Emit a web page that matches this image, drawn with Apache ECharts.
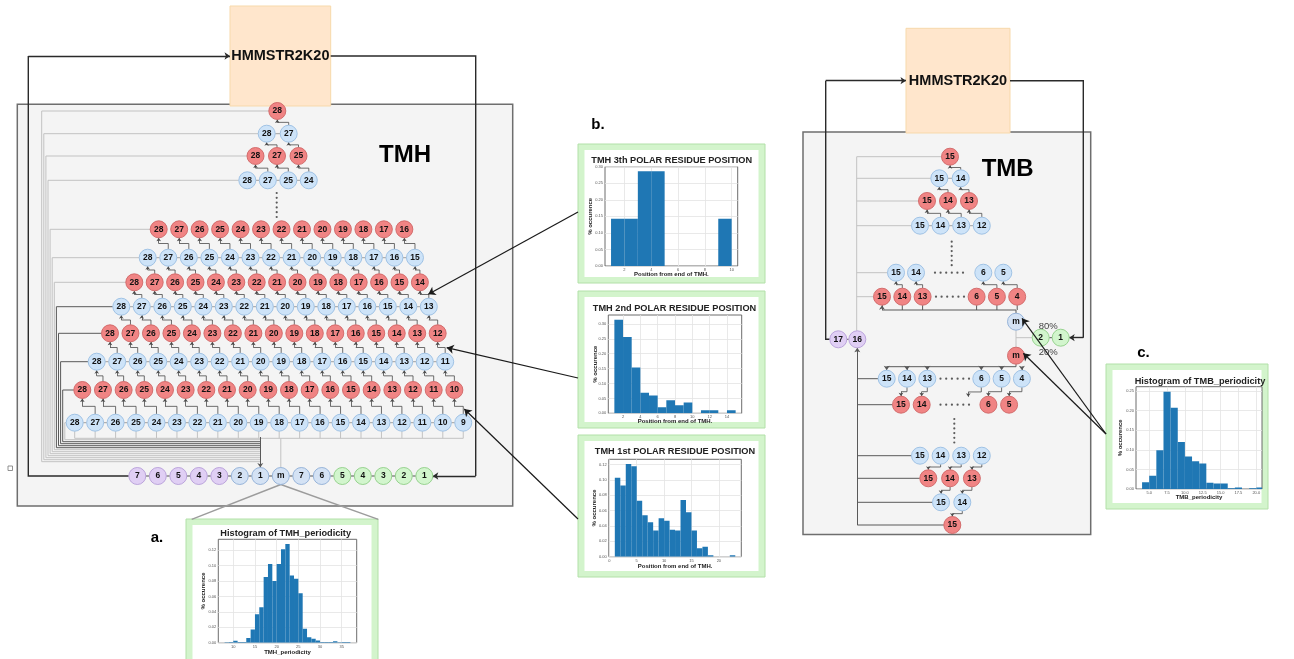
<!DOCTYPE html>
<html>
<head>
<meta charset="utf-8">
<script src="https://cdn.jsdelivr.net/npm/echarts/dist/echarts.min.js"></script>
<style>
  html, body { margin: 0; padding: 0; background: #ffffff; }
  #chart { width: 1294px; height: 659px; }
</style>
</head>
<body>
<div id="chart"></div>
<script>
const FONT = "'Liberation Sans', Arial, sans-serif";

// ---------------- node labels ----------------
// TMH ladder, top to bottom
const tmhLadderRows = [
  ['28'],
  ['28', '27'],
  ['28', '27', '25'],
  ['28', '27', '25', '24'],
  ['28', '27', '26', '25', '24', '23', '22', '21', '20', '19', '18', '17', '16'],
  ['28', '27', '26', '25', '24', '23', '22', '21', '20', '19', '18', '17', '16', '15'],
  ['28', '27', '26', '25', '24', '23', '22', '21', '20', '19', '18', '17', '16', '15', '14'],
  ['28', '27', '26', '25', '24', '23', '22', '21', '20', '19', '18', '17', '16', '15', '14', '13'],
  ['28', '27', '26', '25', '24', '23', '22', '21', '20', '19', '18', '17', '16', '15', '14', '13', '12'],
  ['28', '27', '26', '25', '24', '23', '22', '21', '20', '19', '18', '17', '16', '15', '14', '13', '12', '11'],
  ['28', '27', '26', '25', '24', '23', '22', '21', '20', '19', '18', '17', '16', '15', '14', '13', '12', '11', '10'],
  ['28', '27', '26', '25', '24', '23', '22', '21', '20', '19', '18', '17', '16', '15', '14', '13', '12', '11', '10', '9']
];
const tmhBaseRow = ['7', '6', '5', '4', '3', '2', '1', 'm', '7', '6', '5', '4', '3', '2', '1'];
const tmhBaseKinds = ['purple', 'purple', 'purple', 'purple', 'purple', 'blue2', 'blue2', 'blue2', 'blue2', 'blue2', 'green', 'green', 'green', 'green', 'green'];

// TMB ladder: upper half (above the m states) and lower half
const tmbUpperRows = [['15'], ['15', '14'], ['15', '14', '13'], ['15', '14', '13', '12'], ['15', '14', '6', '5'], ['15', '14', '13', '6', '5', '4']];
const tmbUpperKinds = ['red', 'blue', 'red', 'blue', 'blue', 'red'];
const tmbLowerRows = [['15', '14', '13', '6', '5', '4'], ['15', '14', '6', '5'], ['15', '14', '13', '12'], ['15', '14', '13'], ['15', '14'], ['15']];
const tmbLowerKinds = ['blue', 'red', 'blue', 'red', 'blue', 'red'];

// ---------------- histogram values (bin width 1) ----------------
const tmh3rdStart = 1;
const tmh3rdValues = [0.143, 0.143, 0.286, 0.286, 0, 0, 0, 0, 0.143];
const tmh3rdXTicks = [2, 4, 6, 8, 10];
const tmh3rdYTicks = [0, 0.05, 0.10, 0.15, 0.20, 0.25, 0.30];

const tmh2ndStart = 1;
const tmh2ndValues = [0.314, 0.256, 0.154, 0.069, 0.060, 0.020, 0.044, 0.027, 0.036, 0, 0.010, 0.010, 0, 0.010];
const tmh2ndXTicks = [2, 4, 6, 8, 10, 12, 14];
const tmh2ndYTicks = [0, 0.05, 0.10, 0.15, 0.20, 0.25, 0.30];

const tmh1stStart = 1;
const tmh1stValues = [0.103, 0.093, 0.121, 0.118, 0.073, 0.054, 0.045, 0.034, 0.050, 0.047, 0.035,
                      0.034, 0.074, 0.058, 0.034, 0.011, 0.013, 0.002, 0, 0, 0, 0.002];
const tmh1stXTicks = [0, 5, 10, 15, 20];
const tmh1stYTicks = [0, 0.02, 0.04, 0.06, 0.08, 0.10, 0.12];

const tmhPeriodStart = 8;
const tmhPeriodValues = [0.0005, 0.001, 0.0026, 0.001, 0.001, 0.006, 0.017, 0.037, 0.046, 0.085, 0.102,
                         0.080, 0.102, 0.121, 0.128, 0.087, 0.083, 0.064, 0.018, 0.007, 0.005, 0.003,
                         0.001, 0.001, 0.001, 0.002, 0.0005, 0.001, 0.001];
const tmhPeriodXTicks = [10, 15, 20, 25, 30, 35];
const tmhPeriodYTicks = [0, 0.02, 0.04, 0.06, 0.08, 0.10, 0.12];

const tmbPeriodStart = 4;
const tmbPeriodValues = [0.017, 0.034, 0.099, 0.248, 0.207, 0.120, 0.083, 0.071, 0.065, 0.016, 0.014,
                         0.014, 0.002, 0.004, 0, 0.002, 0.004];
const tmbPeriodXTicks = [5, 7.5, 10, 12.5, 15, 17.5, 20];
const tmbPeriodYTicks = [0, 0.05, 0.10, 0.15, 0.20, 0.25];

// ---------------- diagram layout (canvas pixel units) ----------------
const R = 8.5;  // node radius
const tmhRowY = [111, 133.7, 156, 180.3, 229.3, 257.7, 282.3, 306.7, 333.3, 361.7, 390, 422.7];
const tmhRowX0 = [277.3, 266.7, 255.5, 247.3, 158.7, 147.7, 134.3, 121.3, 110, 96.7, 82.3, 74.7];
const tmhRowStep = [20.5, 22, 21.5, 20.5, 20.47, 20.56, 20.4, 20.5, 20.48, 20.5, 20.67, 20.45];
const tmhBaseY = 476, tmhBaseX0 = 137.3, tmhBaseStep = 20.5;

const tmbUpperY = [156.7, 178.3, 201, 225.7, 272.7, 296.7];
const tmbUpperX0 = [950, 939.3, 927, 920, 896, 882];
const tmbUpperStep = [20, 21.4, 21, 20.6, 20, 20.3];
const tmbUpperGap = [null, null, null, null, [1, 47.3], [2, 33.7]];
const tmbLowerY = [378.7, 404.7, 455.7, 478.3, 502.3, 525];
const tmbLowerX0 = [886.7, 901, 920, 928.3, 941, 952.3];
const tmbLowerStep = [20.3, 20.7, 20.6, 21.8, 21.3, 20];
const tmbLowerGap = [[2, 33.7], [1, 46], null, null, null, null];

// ---------------- geometry builders ----------------
const nodes = { red: [], blue: [], blue2: [], purple: [], green: [] };
const seg = { light: [], dark: [], link: [], linkArrow: [], dash: [], dashDark: [], darkArrow: [],
              loop: [], loopArrow: [], pointer: [], zoomLine: [] };
const dots = [];

function addNode(kind, x, y, label) { nodes[kind].push({ value: [x, y], name: label }); }

function rowXs(count, x0, step, gap) {
  const xs = [];
  for (let k = 0; k < count; k++) xs.push(x0 + k * step + (gap && k > gap[0] ? gap[1] : 0));
  return xs;
}
// arrow pointing up from a lower node into an upper node
function upLink(xl, yl, xu, yu) {
  const ym = (yl - R + yu + R) / 2;
  seg.link.push({ coords: [[xl, yl - R], [xl, ym], [xu, ym]] });
  seg.linkArrow.push({ coords: [[xu, ym], [xu, yu + R]] });
}
// arrow pointing down from an upper node into a lower node
function downLink(xu, yu, xl, yl) {
  const ym = (yu + R + yl - R) / 2;
  seg.link.push({ coords: [[xu, yu + R], [xu, ym], [xl, ym]] });
  seg.linkArrow.push({ coords: [[xl, ym], [xl, yl - R]] });
}
function dashRow(xs, y, target) {
  for (let k = 0; k < xs.length - 1; k++) target.push({ coords: [[xs[k] + R, y], [xs[k + 1] - R, y]] });
}
function dotRun(x0, y0, dx, dy, n) { for (let k = 0; k < n; k++) dots.push([x0 + k * dx, y0 + k * dy]); }

// ---- TMH ladder ----
const tmhX = tmhLadderRows.map((row, r) => rowXs(row.length, tmhRowX0[r], tmhRowStep[r]));
tmhLadderRows.forEach((row, r) => row.forEach((lab, k) => addNode(r % 2 === 0 ? 'red' : 'blue', tmhX[r][k], tmhRowY[r], lab)));
for (let r = 0; r < tmhLadderRows.length - 1; r++) {
  if (r === 3) continue;  // rows 3 and 4 are separated by the ellipsis
  tmhX[r].forEach((xu, j) => upLink(tmhX[r + 1][j + 1], tmhRowY[r + 1], xu, tmhRowY[r]));
}
tmhLadderRows.forEach((row, r) => { if (r % 2 === 1) dashRow(tmhX[r], tmhRowY[r], seg.dash); });

const tmhBaseX = rowXs(tmhBaseRow.length, tmhBaseX0, tmhBaseStep);
tmhBaseRow.forEach((lab, k) => addNode(tmhBaseKinds[k], tmhBaseX[k], tmhBaseY, lab));
dashRow(tmhBaseX, tmhBaseY, seg.dashDark);
const tmhOneX = tmhBaseX[6], tmhMX = tmhBaseX[7];

// every ladder row feeds back into state 1 of the bottom chain
tmhLadderRows.forEach((row, r) => {
  const xv = 41.7 + r * 2.1, yb = 461.7 - r * 2;
  const path = { coords: [[tmhX[r][0] - R, tmhRowY[r]], [xv, tmhRowY[r]], [xv, yb], [tmhOneX, yb]] };
  (r >= 7 && r <= 10 ? seg.dark : seg.light).push(path);
});
seg.darkArrow.push({ coords: [[tmhOneX, 437], [tmhOneX, tmhBaseY - R]] });
// last ladder row collects into m
const tmhBusY = 438.3, lastRow = tmhX.length - 1;
seg.light.push({ coords: [[tmhX[lastRow][0], tmhBusY], [tmhX[lastRow][tmhX[lastRow].length - 1], tmhBusY]] });
tmhX[lastRow].forEach(x => seg.light.push({ coords: [[x, tmhRowY[lastRow] + R], [x, tmhBusY]] }));
seg.light.push({ coords: [[tmhMX, tmhBusY], [tmhMX, tmhBaseY - R]] });
dotRun(276.7, 193, 0, 4.8, 6);

// ---- TMB ladder ----
const tmbUX = tmbUpperRows.map((row, r) => rowXs(row.length, tmbUpperX0[r], tmbUpperStep[r], tmbUpperGap[r]));
const tmbLX = tmbLowerRows.map((row, r) => rowXs(row.length, tmbLowerX0[r], tmbLowerStep[r], tmbLowerGap[r]));
tmbUpperRows.forEach((row, r) => row.forEach((lab, k) => addNode(tmbUpperKinds[r], tmbUX[r][k], tmbUpperY[r], lab)));
tmbLowerRows.forEach((row, r) => row.forEach((lab, k) => addNode(tmbLowerKinds[r], tmbLX[r][k], tmbLowerY[r], lab)));

[[0, 1], [1, 2], [2, 3], [4, 5]].forEach(([u, l]) => {
  tmbUpperRows[u].forEach((lab, j) => {
    const k = tmbUpperRows[l].indexOf(String(Number(lab) - 1));
    if (k >= 0) upLink(tmbUX[l][k], tmbUpperY[l], tmbUX[u][j], tmbUpperY[u]);
  });
});
[[0, 1], [2, 3], [3, 4], [4, 5]].forEach(([u, l]) => {
  tmbLowerRows[l].forEach((lab, j) => {
    const k = tmbLowerRows[u].indexOf(String(Number(lab) - 1));
    if (k >= 0) downLink(tmbLX[u][k], tmbLowerY[u], tmbLX[l][j], tmbLowerY[l]);
  });
});
downLink(tmbLX[0][3], tmbLowerY[0], 968.3, 405.2);  // 6 -> elided states
dashRow(tmbUX[1], tmbUpperY[1], seg.dash);
dashRow(tmbUX[3], tmbUpperY[3], seg.dash);

const tmbM1 = [1016, 321.7], tmbM2 = [1016, 355.7];
const tmb2 = [1040.7, 337.7], tmb1 = [1060.7, 337.7];
const tmb17 = [838.3, 339.3], tmb16 = [857.3, 339.3];
addNode('blue2', tmbM1[0], tmbM1[1], 'm');
addNode('red', tmbM2[0], tmbM2[1], 'm');
addNode('green', tmb2[0], tmb2[1], '2');
addNode('green', tmb1[0], tmb1[1], '1');
addNode('purple', tmb17[0], tmb17[1], '17');
addNode('purple', tmb16[0], tmb16[1], '16');

// upper half returns to 16 from above
seg.light.push({ coords: [[856.7, tmbUpperY[0]], [856.7, tmb16[1] - R]] });
tmbUpperRows.forEach((row, r) => seg.light.push({ coords: [[856.7, tmbUpperY[r]], [tmbUX[r][0] - R, tmbUpperY[r]]] }));
// lower half returns to 16 from below
seg.darkArrow.push({ coords: [[857.3, tmbLowerY[5]], [857.3, tmb16[1] + R]] });
tmbLowerRows.forEach((row, r) => seg.dark.push({ coords: [[857.3, tmbLowerY[r]], [tmbLX[r][0] - R, tmbLowerY[r]]] }));
// m (blue) feeds the upper ladder
const t5 = tmbUpperRows.length - 1, t5Y = tmbUpperY[t5], busUp = 310;
seg.dark.push({ coords: [[tmbUX[t5][0], busUp], [tmbM1[0], busUp], [tmbM1[0], tmbM1[1] - R]] });
seg.darkArrow.push({ coords: [[tmbUX[t5][0], busUp], [tmbUX[t5][0], t5Y + R]] });
tmbUX[t5].slice(1).forEach(x => seg.dark.push({ coords: [[x, t5Y + R], [x, busUp]] }));
// m (red) feeds the lower ladder
const busDown = 366.7;
seg.dark.push({ coords: [[tmbM2[0], tmbM2[1] + R], [tmbM2[0], busDown], [tmbLX[0][0], busDown]] });
tmbLX[0].forEach(x => seg.darkArrow.push({ coords: [[x, busDown], [x, tmbLowerY[0] - R]] }));
seg.light.push({ coords: [[tmbM1[0], tmbM1[1] + R], [tmbM2[0], tmbM2[1] - R]] });
seg.light.push({ coords: [[tmbM1[0], tmb2[1]], [tmb2[0] - R, tmb2[1]]] });
seg.dashDark.push({ coords: [[tmb2[0] + R, tmb2[1]], [tmb1[0] - R, tmb1[1]]] });
seg.dashDark.push({ coords: [[tmb17[0] + R, tmb17[1]], [tmb16[0] - R, tmb16[1]]] });
dotRun(935, 272.7, 5.6, 0, 6);
dotRun(936, 296.7, 5.6, 0, 6);
dotRun(940.5, 378.7, 5.7, 0, 6);
dotRun(940.5, 404.7, 5.7, 0, 6);
dotRun(951.7, 241.7, 0, 4.7, 6);
dotRun(954.3, 419, 0, 4.7, 6);

// ---- outer HMMSTR2K20 loops ----
seg.loop.push({ coords: [[tmhBaseX[0] - R, tmhBaseY], [28.3, tmhBaseY], [28.3, 56]] });
seg.loopArrow.push({ coords: [[28.3, 56], [230, 56]] });
seg.loop.push({ coords: [[330.7, 56], [475.7, 56], [475.7, tmhBaseY]] });
seg.loopArrow.push({ coords: [[475.7, tmhBaseY], [tmhBaseX[14] + R, tmhBaseY]] });
seg.loop.push({ coords: [[tmb17[0] - R, tmb17[1]], [825.7, tmb17[1]], [825.7, 80.7]] });
seg.loopArrow.push({ coords: [[825.7, 80.7], [906, 80.7]] });
seg.loop.push({ coords: [[1010, 80.7], [1083.3, 80.7], [1083.3, tmb1[1]]] });
seg.loopArrow.push({ coords: [[1083.3, tmb1[1]], [tmb1[0] + R, tmb1[1]]] });

// ---- call-outs ----
seg.pointer.push({ coords: [[578, 212], [428.3, 294.3]] });
seg.pointer.push({ coords: [[578, 378], [446.7, 347.7]] });
seg.pointer.push({ coords: [[578, 519], [464.3, 409]] });
seg.pointer.push({ coords: [[1106, 434], [1022, 318.3]] });
seg.pointer.push({ coords: [[1106, 434], [1023.3, 353.3]] });
seg.zoomLine.push({ coords: [[tmhMX, tmhBaseY + R], [191.7, 519.3]] });
seg.zoomLine.push({ coords: [[tmhMX, tmhBaseY + R], [378.3, 519.3]] });

// ---------------- series helpers ----------------
function pathSeries(data, color, width, z) {
  return { type: 'lines', coordinateSystem: 'cartesian2d', xAxisIndex: 0, yAxisIndex: 0, polyline: true,
           silent: true, animation: false, z: z || 3, lineStyle: { color, width, opacity: 1, curveness: 0 }, data };
}
function arrowSeries(data, color, width, size, z) {
  return { type: 'lines', coordinateSystem: 'cartesian2d', xAxisIndex: 0, yAxisIndex: 0, polyline: false,
           symbol: ['none', 'arrow'], symbolSize: size, silent: true, animation: false, z: z || 3,
           lineStyle: { color, width, opacity: 1, curveness: 0 }, data };
}
function nodeSeries(kind, fill, stroke) {
  return { type: 'scatter', xAxisIndex: 0, yAxisIndex: 0, symbol: 'circle', symbolSize: 17, data: nodes[kind],
           silent: true, animation: false, z: 6,
           itemStyle: { color: fill, borderColor: stroke, borderWidth: 0.9, opacity: 1 },
           label: { show: true, position: 'inside', formatter: '{b}', color: '#111', fontSize: 8.5,
                    fontWeight: 'bold', fontFamily: FONT },
           emphasis: { disabled: true } };
}

// ---------------- histograms ----------------
const histograms = [
  { title: 'TMH 3th POLAR RESIDUE POSITION', start: tmh3rdStart, values: tmh3rdValues, xTicks: tmh3rdXTicks, yTicks: tmh3rdYTicks,
    xName: 'Position from end of TMH.', grid: { left: 605, top: 166.7, width: 132.7, height: 99.3 },
    xMin: 0.55, xMax: 10.45, yMax: 0.30, titleAt: [671.7, 160.7], xGap: 5.3, yGap: 12, xDec: 0 },
  { title: 'TMH 2nd POLAR RESIDUE POSITION', start: tmh2ndStart, values: tmh2ndValues, xTicks: tmh2ndXTicks, yTicks: tmh2ndYTicks,
    xName: 'Position from end of TMH.', grid: { left: 608.3, top: 315, width: 133.4, height: 98.3 },
    xMin: 0.3, xMax: 15.7, yMax: 0.33, titleAt: [674.5, 308.3], xGap: 5.4, yGap: 9.6, xDec: 0 },
  { title: 'TMH 1st POLAR RESIDUE POSITION', start: tmh1stStart, values: tmh1stValues, xTicks: tmh1stXTicks, yTicks: tmh1stYTicks,
    xName: 'Position from end of TMH.', grid: { left: 608.8, top: 459.3, width: 132.5, height: 97.4 },
    xMin: -0.1, xMax: 24.1, yMax: 0.127, titleAt: [675, 451.7], xGap: 7, yGap: 11.5, xDec: 0 },
  { title: 'Histogram of TMH_periodicity', start: tmhPeriodStart, values: tmhPeriodValues, xTicks: tmhPeriodXTicks, yTicks: tmhPeriodYTicks,
    xName: 'TMH_periodicity', grid: { left: 218.3, top: 539.3, width: 138.4, height: 103.4 },
    xMin: 6.55, xMax: 38.45, yMax: 0.134, titleAt: [285.7, 533.5], xGap: 6.6, yGap: 12, xDec: 0 },
  { title: 'Histogram of TMB_periodicity', start: tmbPeriodStart, values: tmbPeriodValues, xTicks: tmbPeriodXTicks, yTicks: tmbPeriodYTicks,
    xName: 'TMB_periodicity', grid: { left: 1136, top: 386.7, width: 126, height: 102.3 },
    xMin: 3.15, xMax: 20.8, yMax: 0.261, titleAt: [1200, 381.2], xGap: 5.7, yGap: 13, xDec: 1 }
];

const grids = [{ left: 0, top: 0, width: 1294, height: 659, show: false, containLabel: false, outerBoundsMode: 'none' }];
const xAxes = [{ type: 'value', gridIndex: 0, min: 0, max: 1294, show: false }];
const yAxes = [{ type: 'value', gridIndex: 0, min: 0, max: 659, inverse: true, show: false }];
const histSeries = [];
const histTitles = [];

function renderBin(params, api) {
  const lo = api.coord([api.value(0), api.value(2)]);
  const hi = api.coord([api.value(1), 0]);
  return { type: 'rect', shape: { x: lo[0], y: lo[1], width: hi[0] - lo[0], height: hi[1] - lo[1] },
           style: { fill: '#1f77b4' } };
}

histograms.forEach((h, i) => {
  const gi = i + 1;
  grids.push(Object.assign({ show: true, backgroundColor: '#ffffff', borderColor: '#5c5c5c', borderWidth: 0.9,
                             containLabel: false, outerBoundsMode: 'none' }, h.grid));
  xAxes.push({
    type: 'value', gridIndex: gi, min: h.xMin, max: h.xMax,
    name: h.xName, nameLocation: 'middle', nameGap: h.xGap, nameMoveOverlap: false,
    nameTextStyle: { fontSize: 6, fontWeight: 'bold', color: '#222', fontFamily: FONT },
    axisLine: { show: false }, axisTick: { show: false, customValues: h.xTicks },
    axisLabel: { customValues: h.xTicks, fontSize: 4, color: '#555', margin: 2, fontFamily: FONT,
                 formatter: v => Number(v).toFixed(h.xDec) },
    splitLine: { show: true, lineStyle: { color: '#e3e3e3', width: 0.8 } }
  });
  yAxes.push({
    type: 'value', gridIndex: gi, min: 0, max: h.yMax,
    name: '% occurence', nameLocation: 'middle', nameGap: h.yGap, nameMoveOverlap: false,
    nameTextStyle: { fontSize: 6, fontWeight: 'bold', color: '#222', fontFamily: FONT },
    axisLine: { show: false }, axisTick: { show: false, customValues: h.yTicks },
    axisLabel: { customValues: h.yTicks, fontSize: 4, color: '#555', margin: 2, fontFamily: FONT,
                 formatter: v => Number(v).toFixed(2) },
    splitLine: { show: true, lineStyle: { color: '#e3e3e3', width: 0.8 } }
  });
  histSeries.push({
    type: 'custom', xAxisIndex: gi, yAxisIndex: gi, renderItem: renderBin, clip: true,
    encode: { x: [0, 1], y: 2 }, silent: true, animation: false, z: 4,
    data: h.values.map((v, k) => [h.start + k, h.start + k + 1, v])
  });
  histTitles.push(txt(h.titleAt[0], h.titleAt[1], h.title, 9.2, 'bold', '#222'));
});

// ---------------- static shapes and text ----------------
function txt(x, y, text, size, weight, color, align) {
  return { type: 'text', x, y, z: 20, silent: true,
           style: { text, fontSize: size, fontWeight: weight, fontFamily: FONT, fill: color,
                    align: align || 'center', verticalAlign: 'middle',
                    textAlign: align || 'center', textVerticalAlign: 'middle' } };
}
function box(x, y, w, h, fill, stroke, lw, z) {
  return { type: 'rect', z, silent: true, shape: { x, y, width: w, height: h },
           style: { fill, stroke, lineWidth: lw } };
}
function greenFrame(x, y, w, h) {
  return [box(x, y, w, h, '#d3f4cc', '#b2e0a8', 1, -8), box(x + 6.5, y + 6, w - 13, h - 12, '#ffffff', null, 0, -7)];
}

const graphicElements = [
  box(17.3, 104.3, 495.4, 401.7, '#f4f4f4', '#6e6e6e', 1.5, -10),
  box(803, 132, 287.7, 402.5, '#f4f4f4', '#6e6e6e', 1.5, -10),
  box(230, 6, 100.7, 100, '#ffe6cc', '#f7d9ab', 1, -6),
  box(906, 28.3, 104, 104.7, '#ffe6cc', '#f7d9ab', 1, -6),
  ...greenFrame(578, 144, 187, 139),
  ...greenFrame(578, 291, 187, 137),
  ...greenFrame(578, 435, 187, 142),
  ...greenFrame(186, 519, 192, 150),
  ...greenFrame(1106, 364, 162, 145),
  box(8, 466, 4.5, 4.5, '#ffffff', '#777777', 0.8, -6),
  txt(280.3, 56, 'HMMSTR2K20', 14.5, 'bold', '#111'),
  txt(958, 80.7, 'HMMSTR2K20', 14.5, 'bold', '#111'),
  txt(405, 155.5, 'TMH', 24, 'bold', '#000'),
  txt(1007.7, 169.5, 'TMB', 24, 'bold', '#000'),
  txt(157, 537.5, 'a.', 15, 'bold', '#000'),
  txt(598, 125, 'b.', 15, 'bold', '#000'),
  txt(1143.5, 352.7, 'c.', 15, 'bold', '#000'),
  txt(1048.3, 326.3, '80%', 9.5, 'normal', '#444'),
  txt(1048.3, 352.3, '20%', 9.5, 'normal', '#444'),
  ...histTitles
];

const option = {
  animation: false,
  backgroundColor: '#ffffff',
  grid: grids,
  xAxis: xAxes,
  yAxis: yAxes,
  graphic: { elements: graphicElements },
  series: [
    pathSeries(seg.light, '#c2c2c2', 1),
    pathSeries(seg.dark, '#595959', 1),
    arrowSeries(seg.darkArrow, '#595959', 1, 4.5),
    pathSeries(seg.link, '#4a4a4a', 0.8),
    arrowSeries(seg.linkArrow, '#4a4a4a', 0.8, 3.5),
    pathSeries(seg.dash, '#8a8a8a', 0.8),
    pathSeries(seg.dashDark, '#555555', 1),
    pathSeries(seg.loop, '#2a2a2a', 1.4),
    arrowSeries(seg.loopArrow, '#2a2a2a', 1.4, 5.5),
    arrowSeries(seg.pointer, '#1a1a1a', 1.2, 7, 8),
    pathSeries(seg.zoomLine, '#9c9c9c', 1.4),
    { type: 'scatter', xAxisIndex: 0, yAxisIndex: 0, symbol: 'circle', symbolSize: 2.2, data: dots,
      silent: true, animation: false, z: 5, itemStyle: { color: '#333333' } },
    nodeSeries('red', '#f08484', '#cf6464'),
    nodeSeries('blue', '#cde3f8', '#98bde2'),
    nodeSeries('blue2', '#d4e2f4', '#8eaed6'),
    nodeSeries('purple', '#e0cff4', '#b69dd8'),
    nodeSeries('green', '#d2f5cd', '#8fce86'),
    ...histSeries
  ]
};

const chart = echarts.init(document.getElementById('chart'), null, { renderer: 'canvas', width: 1294, height: 659 });
chart.setOption(option);
</script>
</body>
</html>
